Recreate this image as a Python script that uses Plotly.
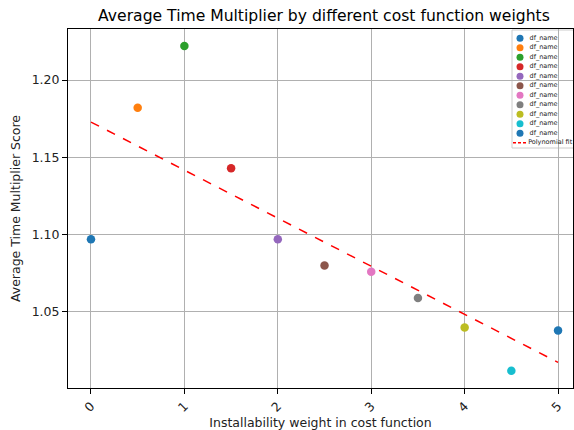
import numpy as np
import plotly.graph_objects as go

# Installability weights and the resulting average time multiplier scores
weights = [0.0, 0.5, 1.0, 1.5, 2.0, 2.5, 3.0, 3.5, 4.0, 4.5, 5.0]
scores = [1.097, 1.182, 1.222, 1.143, 1.097, 1.080, 1.076, 1.059, 1.040, 1.012, 1.038]
series_names = ["df_name"] * len(weights)
colors = ["#1f77b4", "#ff7f0e", "#2ca02c", "#d62728", "#9467bd", "#8c564b",
          "#e377c2", "#7f7f7f", "#bcbd22", "#17becf", "#1f77b4"]
fit_name = "Polynomial fit"
x_ticks = [0, 1, 2, 3, 4, 5]
y_ticks = [1.05, 1.10, 1.15, 1.20]

# Figure geometry (pixels)
W, H = 574, 430
ML, MR, MT, MB = 68, 1, 29, 42
PW, PH = W - ML - MR, H - MT - MB
font = "DejaVu Sans, sans-serif"


def px_x(px):
    return (px - ML) / PW


def px_y(py):
    return (H - MB - py) / PH


fig = go.Figure()
for w, s, n, c in zip(weights, scores, series_names, colors):
    fig.add_trace(go.Scatter(x=[w], y=[s], mode="markers", name=n, showlegend=False,
                             marker=dict(color=c, size=8.5)))

# Linear polynomial fit through all points
coef = np.polyfit(weights, scores, 1)
fit_x = np.array([weights[0], weights[-1]])
fit_y = np.polyval(coef, fit_x)
fig.add_trace(go.Scatter(x=fit_x, y=fit_y, mode="lines", name=fit_name, showlegend=False,
                         line=dict(color="red", width=1.5, dash="dash")))

# Compact legend drawn on a pixel-space overlay axis
leg_left, leg_top, leg_bottom = 512, 30, 148
row0, row_step = 38.3, 9.5
rows = [row0 + i * row_step for i in range(len(series_names) + 1)]
fig.add_trace(go.Scatter(
    x=[520] * len(series_names), y=rows[:-1], mode="markers+text",
    text=["  " + n for n in series_names], textposition="middle right",
    textfont=dict(size=6.5, color="#222", family=font),
    marker=dict(color=colors, size=7), xaxis="x2", yaxis="y2",
    showlegend=False, hoverinfo="skip", cliponaxis=False))
fig.add_trace(go.Scatter(
    x=[513, 526], y=[rows[-1]] * 2, mode="lines",
    line=dict(color="red", width=1.5, dash="3px,2px"),
    xaxis="x2", yaxis="y2", showlegend=False, hoverinfo="skip"))
fig.add_trace(go.Scatter(
    x=[524], y=[rows[-1]], mode="text", text=["  " + fit_name],
    textposition="middle right", textfont=dict(size=6.5, color="#222", family=font),
    xaxis="x2", yaxis="y2", showlegend=False, hoverinfo="skip", cliponaxis=False))

fig.add_shape(type="rect", xref="paper", yref="paper",
              x0=px_x(leg_left), x1=px_x(W + 10), y0=px_y(leg_top), y1=px_y(leg_bottom),
              line=dict(color="#cccccc", width=1),
              fillcolor="rgba(255,255,255,0.8)", layer="between")

axis_common = dict(
    ticks="outside", ticklen=5, tickcolor="black",
    showgrid=True, gridcolor="#b0b0b0", gridwidth=1,
    showline=True, linecolor="black", linewidth=1, mirror=True, zeroline=False,
    tickfont=dict(size=12.5),
)

fig.update_layout(
    width=W, height=H,
    margin=dict(l=ML, r=MR, t=MT, b=MB),
    plot_bgcolor="white", paper_bgcolor="white",
    font=dict(family=font, color="#222", size=12.5),
    title=dict(text="Average Time Multiplier by different cost function weights",
               x=(ML + (W - MR)) / 2 / W + 0.006, xanchor="center", y=0.963, yanchor="middle",
               font=dict(size=15.6, color="black")),
    showlegend=False,
    xaxis=dict(range=[-0.246, 5.16], tickvals=x_ticks, ticktext=[str(t) for t in x_ticks],
               tickangle=-45,
               title=dict(text="Installability weight in cost function",
                          font=dict(size=12.5), standoff=2),
               **axis_common),
    yaxis=dict(range=[1.0008, 1.233], tickvals=y_ticks,
               ticktext=[f"{t:.2f}" for t in y_ticks],
               title=dict(text="Average Time Multiplier Score",
                          font=dict(size=12.5), standoff=8),
               **axis_common),
    xaxis2=dict(overlaying="x", range=[ML, W - MR], visible=False, anchor="y2"),
    yaxis2=dict(overlaying="y", range=[H - MB, MT], visible=False, anchor="x2"),
)

fig.write_html("out.html")
